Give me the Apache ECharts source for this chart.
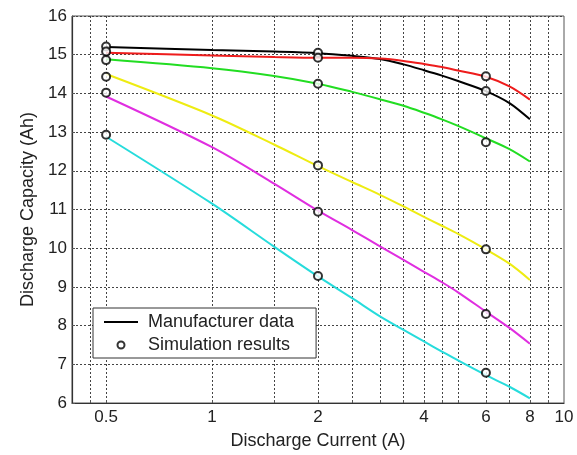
<!DOCTYPE html>
<html>
<head>
<meta charset="utf-8">
<script src="https://cdn.jsdelivr.net/npm/echarts@6/dist/echarts.min.js"></script>
<style>
  html, body { margin: 0; padding: 0; background: #fff; }
  #chart { width: 577px; height: 455px; }
</style>
</head>
<body>
<div id="chart"></div>
<script>
// discharge current samples (A) for the manufacturer curves
const currents = [0.5, 1, 1.5, 2, 2.5, 3, 3.5, 4, 4.5, 5, 6, 7, 8];
const curveBlack = [15.2, 15.12, 15.08, 15.04, 14.97, 14.89, 14.75, 14.6, 14.46, 14.32, 14.06, 13.75, 13.33];
const curveRed = [15.05, 14.98, 14.94, 14.92, 14.92, 14.9, 14.84, 14.76, 14.68, 14.59, 14.43, 14.18, 13.84];
const curveGreen = [14.88, 14.65, 14.45, 14.25, 14.04, 13.85, 13.68, 13.5, 13.33, 13.16, 12.84, 12.56, 12.24];
const curveYellow = [14.5, 13.43, 12.68, 12.12, 11.71, 11.38, 11.08, 10.81, 10.58, 10.37, 9.97, 9.6, 9.18];
const curveMagenta = [13.92, 12.61, 11.67, 10.97, 10.47, 10.05, 9.7, 9.39, 9.12, 8.86, 8.36, 7.94, 7.53];
const curveCyan = [12.88, 11.15, 10.04, 9.27, 8.71, 8.24, 7.89, 7.59, 7.33, 7.1, 6.72, 6.42, 6.12];

// simulation results
const simCurrents = [0.5, 2, 6];
const simBlack = [15.21, 15.05, 14.06];
const simRed = [15.08, 14.92, 14.44];
const simGreen = [14.86, 14.25, 12.74];
const simYellow = [14.43, 12.14, 9.97];
const simMagenta = [14.02, 10.94, 8.3];
const simCyan = [12.93, 9.28, 6.78];

// axis ticks / grid
const xLabelValues = [0.5, 1, 2, 4, 6, 8, 10];
const xGridValues = [0.45, 0.5, 1, 1.5, 2, 2.5, 3, 3.5, 4, 4.5, 5, 6, 7, 8, 9];

const font = 'Liberation Sans, Arial, Helvetica, sans-serif';

const curves = [
  { name: 'Manufacturer data', values: curveBlack, color: '#000000' },
  { name: 'red', values: curveRed, color: '#ee1c1c' },
  { name: 'green', values: curveGreen, color: '#22dd22' },
  { name: 'yellow', values: curveYellow, color: '#eeec12' },
  { name: 'magenta', values: curveMagenta, color: '#e02ee0' },
  { name: 'cyan', values: curveCyan, color: '#26dcdc' }
];
const sims = [simBlack, simRed, simGreen, simYellow, simMagenta, simCyan];

const lineSeries = curves.map(function (c) {
  return {
    name: c.name,
    type: 'line',
    data: currents.map(function (x, i) { return [x, c.values[i]]; }),
    symbol: 'none',
    smooth: 0.3,
    lineStyle: { color: c.color, width: 2 },
    itemStyle: { color: c.color },
    z: 2
  };
});

const simData = [];
sims.forEach(function (arr) {
  simCurrents.forEach(function (x, i) { simData.push([x, arr[i]]); });
});

const chart = echarts.init(document.getElementById('chart'));
chart.setOption({
  animation: false,
  backgroundColor: '#fff',
  grid: {
    left: 72, top: 16, right: 13, bottom: 52,
    show: true, borderColor: '#555', borderWidth: 1
  },
  legend: {
    orient: 'vertical',
    left: 93, top: 308,
    backgroundColor: '#fff',
    borderColor: '#333', borderWidth: 1,
    padding: [5, 22, 4, 10],
    itemWidth: 34, itemHeight: 7, itemGap: 5,
    textStyle: { fontFamily: font, fontSize: 18, color: '#222', padding: [0, 0, 0, 5] },
    data: [
      { name: 'Manufacturer data', itemStyle: { opacity: 0 } },
      { name: 'Simulation results' }
    ]
  },
  xAxis: {
    type: 'log',
    logBase: 10,
    min: 0.4, max: 10,
    name: 'Discharge Current (A)',
    nameLocation: 'middle',
    nameGap: 29,
    nameTextStyle: { fontFamily: font, fontSize: 18, color: '#222' },
    axisLine: { lineStyle: { color: '#333', width: 1.2 } },
    axisTick: { show: true, inside: true, length: 3, customValues: xGridValues, lineStyle: { color: '#555' } },
    axisLabel: { customValues: xLabelValues, fontFamily: font, fontSize: 17, color: '#222', margin: 6,
      formatter: function (v) { return String(v); } },
    splitLine: { show: true, lineStyle: { color: '#444', type: [2, 2], width: 1 } },
    minorTick: { show: false }
  },
  yAxis: {
    type: 'value',
    min: 6, max: 16, interval: 1,
    name: 'Discharge Capacity (Ah)',
    nameLocation: 'middle',
    nameGap: 31,
    nameTextStyle: { fontFamily: font, fontSize: 18, color: '#222' },
    axisLine: { show: true, lineStyle: { color: '#333', width: 1.2 } },
    axisTick: { show: true, inside: true, length: 3, lineStyle: { color: '#555' } },
    axisLabel: { fontFamily: font, fontSize: 17, color: '#222', margin: 5 },
    splitLine: { show: true, lineStyle: { color: '#444', type: [2, 2], width: 1 } }
  },
  series: lineSeries.concat([{
    name: 'Simulation results',
    type: 'scatter',
    data: simData,
    symbol: 'emptyCircle',
    symbolSize: 8,
    itemStyle: { color: '#000', borderColor: '#000', borderWidth: 1.5 },
    z: 5
  }])
});
</script>
</body>
</html>
